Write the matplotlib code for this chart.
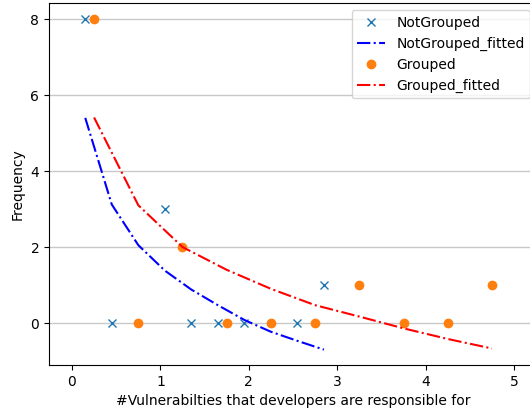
import matplotlib
matplotlib.use("Agg")
import matplotlib.pyplot as plt

# Data
notgrouped_x = [0.15, 0.45, 1.05, 1.35, 1.65, 1.95, 2.55, 2.85]
notgrouped_y = [8, 0, 3, 0, 0, 0, 0, 1]

notgrouped_fit_x = [0.15, 0.45, 0.75, 1.05, 1.35, 1.65, 1.95, 2.25, 2.55, 2.85]
notgrouped_fit_y = [5.40, 3.12, 2.05, 1.38, 0.88, 0.47, 0.08, -0.23, -0.47, -0.70]

grouped_x = [0.25, 0.75, 1.25, 1.75, 2.25, 2.75, 3.25, 3.75, 4.25, 4.75]
grouped_y = [8, 0, 2, 0, 0, 0, 1, 0, 0, 1]

grouped_fit_x = [0.25, 0.75, 1.25, 1.75, 2.25, 2.75, 3.25, 3.75, 4.25, 4.75]
grouped_fit_y = [5.41, 3.10, 2.00, 1.40, 0.90, 0.47, 0.17, -0.14, -0.42, -0.67]

x_ticks = [0, 1, 2, 3, 4, 5]
y_ticks = [0, 2, 4, 6, 8]

fig = plt.figure(figsize=(5.30, 4.08), dpi=100)
W, H = 530, 408
left, right, top, bottom = 49, 537, 3.3, 365
ax = fig.add_axes([left / W, (H - bottom) / H, (right - left) / W, (bottom - top) / H])

ax.plot(notgrouped_x, notgrouped_y, 'x', color='#1f77b4', label='NotGrouped')
ax.plot(notgrouped_fit_x, notgrouped_fit_y, '-.', color='blue', label='NotGrouped_fitted')
ax.plot(grouped_x, grouped_y, 'o', color='#ff7f0e', label='Grouped')
ax.plot(grouped_fit_x, grouped_fit_y, '-.', color='red', label='Grouped_fitted')

ax.set_xlim(-0.26, 5.26)
ax.set_ylim(-1.105, 8.415)
ax.set_xticks(x_ticks)
ax.set_yticks(y_ticks)
ax.yaxis.grid(True, color='#c8c8c8', linewidth=1.0)
ax.set_axisbelow(True)

ax.set_xlabel('#Vulnerabilties that developers are responsible for')
ax.set_ylabel('Frequency')
ax.legend(loc='upper right')

fig.savefig('out.png', dpi=100)
